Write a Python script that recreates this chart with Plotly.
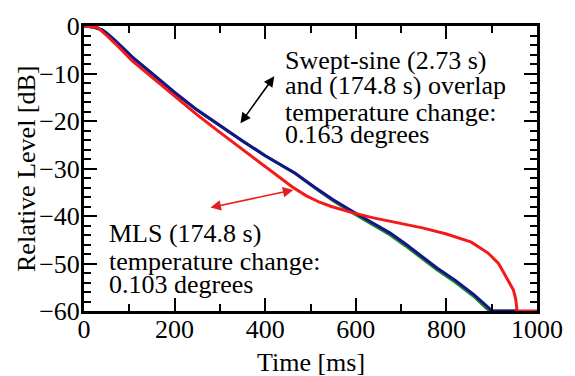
import plotly.graph_objects as go

# Swept-sine, short sweep (2.73 s)
t_sweep_short = [0, 20, 40, 50, 70, 106, 150, 200, 250, 300, 350, 400, 466, 510, 550,
                 596, 640, 676, 710, 747, 780, 819, 860, 894, 900, 955]
db_sweep_short = [0, -0.2, -0.8, -1.5, -3.2, -6.5, -10.0, -14.0, -17.7, -21.0, -24.2,
                  -27.3, -31.0, -34.0, -36.6, -39.2, -41.6, -43.6, -45.9, -48.6, -51.0,
                  -53.5, -56.5, -59.4, -60, -60]

# Swept-sine, long sweep (174.8 s)
t_sweep_long = [0, 20, 40, 50, 70, 106, 150, 200, 250, 300, 350, 400, 466, 510, 550,
                596, 640, 676, 710, 747, 780, 819, 860, 890, 897, 955]
db_sweep_long = [0, -0.2, -0.8, -1.5, -3.2, -6.5, -10.0, -14.0, -17.7, -21.0, -24.2,
                 -27.3, -31.0, -34.1, -36.8, -39.5, -42.0, -44.0, -46.3, -49.0, -51.4,
                 -53.9, -56.9, -59.6, -60, -60]

# MLS (174.8 s)
t_mls = [0, 30, 50, 70, 106, 150, 200, 250, 300, 350, 400, 430, 460, 490, 520, 546, 570,
         596, 639, 700, 747, 800, 855, 892, 915, 927, 940, 948, 953, 956, 1000]
db_mls = [0, -0.3, -2.0, -3.8, -7.3, -10.8, -14.8, -18.7, -22.4, -26.0, -29.6, -31.8,
          -33.9, -35.7, -37.1, -38.0, -38.7, -39.4, -40.4, -41.5, -42.5, -43.8, -45.5,
          -47.8, -50.0, -52.0, -54.2, -55.6, -57.5, -60, -60]

x_ticks = [0, 200, 400, 600, 800, 1000]
y_ticks = [0, -10, -20, -30, -40, -50, -60]

FONT = "Liberation Serif"
INK = "#000000"

fig = go.Figure()
fig.add_trace(go.Scatter(x=t_sweep_long, y=db_sweep_long, mode="lines",
                         line=dict(color="#1f8a1f", width=3)))
fig.add_trace(go.Scatter(x=t_sweep_short, y=db_sweep_short, mode="lines",
                         line=dict(color="#14148c", width=3)))
fig.add_trace(go.Scatter(x=t_mls, y=db_mls, mode="lines",
                         line=dict(color="#f41a1a", width=3)))

axis_common = dict(
    showline=True, linecolor=INK, linewidth=3, mirror="allticks",
    ticks="inside", ticklen=13, tickwidth=2, tickcolor=INK,
    showgrid=False, zeroline=False,
    tickfont=dict(family=FONT, size=26, color=INK),
)

fig.update_xaxes(range=[0, 1000], tickvals=x_ticks, ticklabelstandoff=-7,
                 minor=dict(dtick=100, ticks="inside", ticklen=7, tickwidth=2, tickcolor=INK),
                 **axis_common)
fig.update_yaxes(range=[-60, 0], tickvals=y_ticks, ticklabelstandoff=-4,
                 minor=dict(dtick=2, ticks="inside", ticklen=7, tickwidth=2, tickcolor=INK),
                 **axis_common)

# Axis titles
fig.add_annotation(text="Time [ms]", xref="paper", yref="paper", x=0.5, y=-0.18,
                   xanchor="center", yanchor="middle", showarrow=False,
                   font=dict(family=FONT, size=26, color=INK))
fig.add_annotation(text="Relative Level [dB]", xref="paper", yref="paper", x=-0.127, y=0.5,
                   xanchor="center", yanchor="middle", textangle=-90, showarrow=False,
                   font=dict(family=FONT, size=26, color=INK))

# Text labels, one per line
text_lines = [
    ("Swept-sine (2.73 s)", 440, -7.3),
    ("and (174.8 s) overlap", 440, -12.5),
    ("temperature change:", 440, -18.3),
    ("0.163 degrees", 440, -22.8),
    ("MLS (174.8 s)", 50, -43.6),
    ("temperature change:", 50, -49.6),
    ("0.103 degrees", 50, -54.4),
]
for txt, x, y in text_lines:
    fig.add_annotation(x=x, y=y, text=txt, showarrow=False, xanchor="left", yanchor="middle",
                       font=dict(family=FONT, size=26, color=INK))

# Double-headed arrows
fig.add_annotation(x=420, y=-10.6, ax=343, ay=-20.8, axref="x", ayref="y", xref="x", yref="y",
                   text="", showarrow=True, arrowhead=2, startarrowhead=2, arrowside="end+start",
                   arrowsize=1.3, startarrowsize=1.3, arrowwidth=1.6, arrowcolor=INK)
fig.add_annotation(x=462, y=-34.5, ax=276, ay=-38.3, axref="x", ayref="y", xref="x", yref="y",
                   text="", showarrow=True, arrowhead=2, startarrowhead=2, arrowside="end+start",
                   arrowsize=1.3, startarrowsize=1.3, arrowwidth=1.6, arrowcolor="#e81c1c")

fig.update_layout(
    width=575, height=376,
    margin=dict(l=84, r=28, t=26, b=65),
    paper_bgcolor="white", plot_bgcolor="white",
    showlegend=False,
)

fig.write_html("out.html")
